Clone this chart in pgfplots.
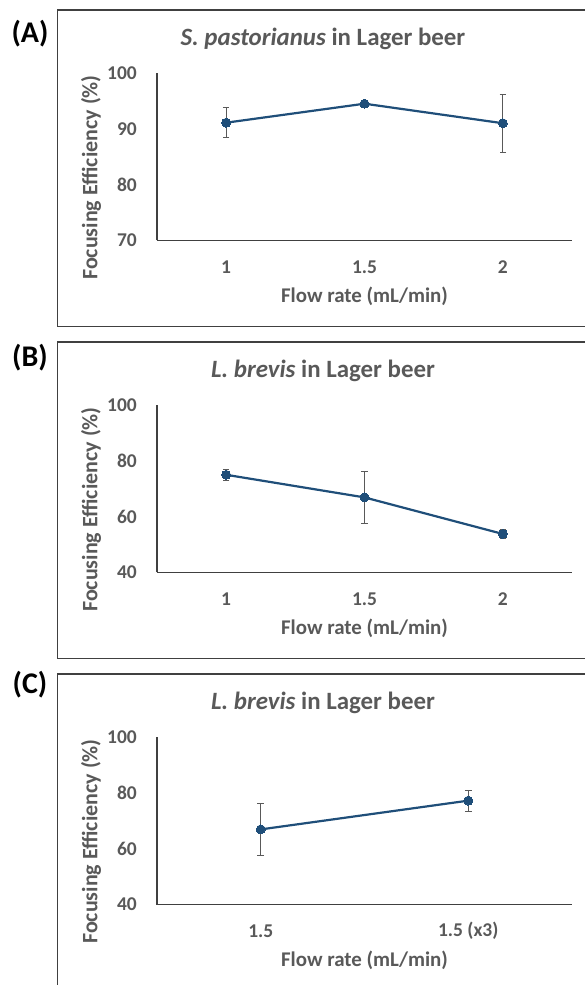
\documentclass[border=0pt]{standalone}
\usepackage{fontspec}
\setmainfont{Carlito}
\usepackage{pgfplots}
\pgfplotsset{compat=1.18}

\definecolor{txtgray}{HTML}{595959}
\definecolor{serblue}{HTML}{1F4E79}
\definecolor{framec}{HTML}{404040}

\pgfplotsset{
  fepanel/.style={
    scale only axis, width=415pt, height=167.5pt,
    anchor=south west,
    axis x line=bottom, axis y line=left,
    axis line style={-, draw=framec, line width=1.1pt},
    major tick length=0pt,
    xmin=0.5, xtick={1,2,3},
    /pgf/number format/assume math mode=true,
    tick label style={font=\bfseries\fontsize{19.5}{20}\selectfont, text=txtgray},
    xticklabel style={anchor=center, yshift=-26.5pt},
    yticklabel style={anchor=east, inner sep=0pt, xshift=-20pt},
    xlabel={Flow rate (mL/min)},
    ylabel={Focusing Efficiency (\%)},
    xlabel style={at={(axis description cs:0.5,-0.3355)}, anchor=center,
      font=\bfseries\fontsize{20.9}{22}\selectfont, text=txtgray},
    ylabel style={at={(axis description cs:-0.159,0.376)}, anchor=center,
      font=\bfseries\fontsize{22}{23}\selectfont, text=txtgray},
    title style={at={(axis description cs:0.4,1.169)}, anchor=center,
      font=\bfseries\fontsize{24.9}{26}\selectfont, text=txtgray},
    clip=false,
  },
  feline/.style={
    serblue, line width=2.2pt, mark=*, mark size=4.5pt,
    mark options={solid, fill=serblue, draw=serblue, line width=0pt},
    error bars/.cd, y dir=both, y explicit,
    error bar style={line width=0.8pt, draw=txtgray},
    error mark options={rotate=90, mark size=3.3pt, line width=0.8pt, draw=txtgray},
  },
}

\begin{document}
\begin{tikzpicture}
\useasboundingbox (0pt,0pt) rectangle (585pt,985pt);
\clip (0pt,0pt) rectangle (585pt,985pt);

% panel frames
\draw[framec, line width=1.3pt] (57.5pt,975pt) rectangle (600pt,658.5pt);
\draw[framec, line width=1.3pt] (57.5pt,643pt) rectangle (600pt,326.5pt);
\draw[framec, line width=1.3pt] (57.5pt,311pt) rectangle (600pt,-10pt);

\node[font=\bfseries\fontsize{30}{31}\selectfont] at (30pt,951.5pt) {(A)};
\node[font=\bfseries\fontsize{30}{31}\selectfont] at (30pt,627pt) {(B)};
\node[font=\bfseries\fontsize{30}{31}\selectfont] at (30pt,300pt) {(C)};

% (A)
\begin{axis}[fepanel, at={(157pt,744.5pt)},
  xmax=3.5, xticklabels={1,1.5,2},
  ymin=70, ymax=100, ytick={70,80,90,100},
  title={\textit{S. pastorianus} in Lager beer}]
\addplot[feline] coordinates {
  (1,91.1) +- (0,2.7)
  (2,94.5) +- (0,0.3)
  (3,91.0) +- (0,5.2)
};
\end{axis}

% (B)
\begin{axis}[fepanel, at={(157pt,412.5pt)},
  xmax=3.5, xticklabels={1,1.5,2},
  ymin=40, ymax=100, ytick={40,60,80,100},
  title={\textit{L. brevis} in Lager beer}]
\addplot[feline] coordinates {
  (1,75.0) +- (0,1.9)
  (2,66.9) +- (0,9.3)
  (3,53.8) +- (0,1.7)
};
\end{axis}

% (C)
\begin{axis}[fepanel, at={(157pt,80.5pt)},
  xmax=2.5, xtick={1,2}, xticklabels={1.5,1.5 (x3)},
  ymin=40, ymax=100, ytick={40,60,80,100},
  title={\textit{L. brevis} in Lager beer}]
\addplot[feline] coordinates {
  (1,66.9) +- (0,9.3)
  (2,77.2) +- (0,3.8)
};
\end{axis}
\end{tikzpicture}
\end{document}
